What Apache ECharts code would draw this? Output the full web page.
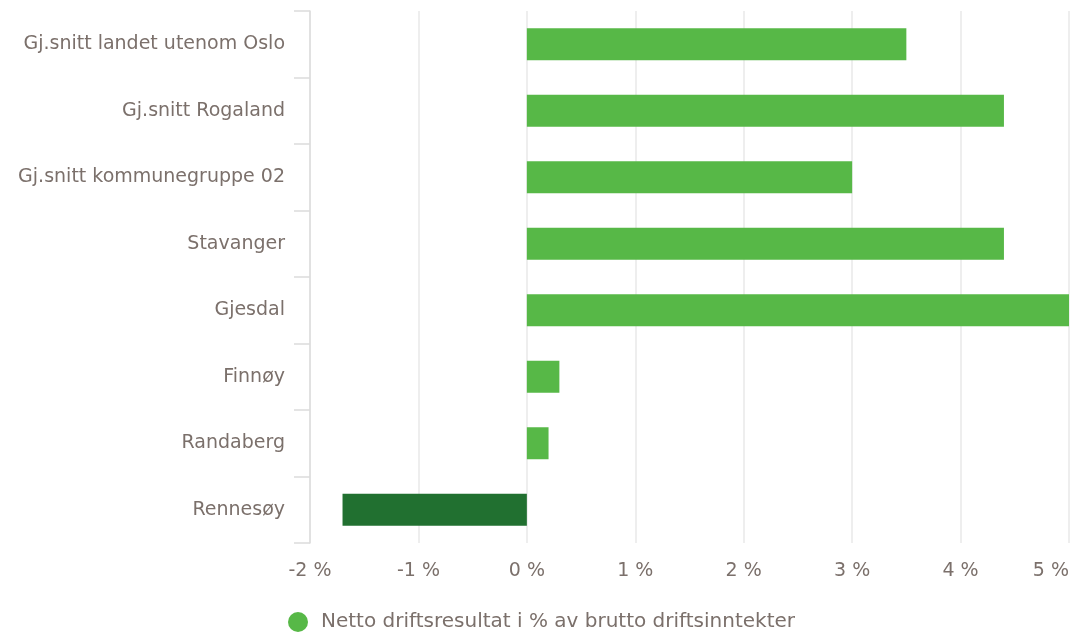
<!DOCTYPE html>
<html>
<head>
<meta charset="utf-8">
<script src="https://cdn.jsdelivr.net/npm/echarts@6/dist/echarts.min.js"></script>
<style>
html, body { margin: 0; padding: 0; background: #fff; }
#chart { width: 1074px; height: 637px; }
</style>
</head>
<body>
<div id="chart"></div>
<script>
var categories = ['Gj.snitt landet utenom Oslo', 'Gj.snitt Rogaland', 'Gj.snitt kommunegruppe 02',
    'Stavanger', 'Gjesdal', 'Finnøy', 'Randaberg', 'Rennesøy'];
var values = [3.5, 4.4, 3.0, 4.4, 5.0, 0.3, 0.2, -1.7];
var highlighted = ['Rennesøy'];
var xTicks = [-2, -1, 0, 1, 2, 3, 4, 5];
var seriesName = 'Netto driftsresultat i % av brutto driftsinntekter';

var textColor = '#7b706b';
var fontFamily = '"DejaVu Sans", sans-serif';

var chart = echarts.init(document.getElementById('chart'));

// kategori-aksen går ovenfra og ned
var cats = categories.slice().reverse();
var data = values.slice().reverse().map(function (v, i) {
    var name = cats[i];
    return {
        value: v,
        itemStyle: {color: highlighted.indexOf(name) >= 0 ? '#217030' : '#57b847'}
    };
});

chart.setOption({
    animation: false,
    textStyle: {fontFamily: fontFamily},
    grid: {left: 310, right: 5, top: 11, bottom: 94, containLabel: false, outerBoundsMode: 'none'},
    legend: {
        bottom: 0,
        left: 283,
        icon: 'circle',
        itemWidth: 20,
        itemHeight: 20,
        itemGap: 12,
        textStyle: {color: textColor, fontSize: 20, fontFamily: fontFamily, padding: [0, 0, 0, 8]},
        data: [seriesName]
    },
    xAxis: {
        type: 'value',
        min: xTicks[0],
        max: xTicks[xTicks.length - 1],
        interval: 1,
        axisLine: {show: false},
        axisTick: {show: false},
        axisLabel: {
            color: textColor,
            fontSize: 19,
            margin: 19,
            alignMaxLabel: 'right',
            formatter: function (v) {
                return v + ' %';
            }
        },
        splitLine: {lineStyle: {color: '#e8e8e8', width: 1.5}}
    },
    yAxis: {
        type: 'category',
        data: cats,
        axisLine: {show: true, onZero: false, lineStyle: {color: '#dcdcdc', width: 1.5}},
        axisTick: {show: true, length: 16, lineStyle: {color: '#dcdcdc', width: 1.5}},
        axisLabel: {color: textColor, fontSize: 19, margin: 25}
    },
    series: [{
        name: seriesName,
        type: 'bar',
        barWidth: 32,
        itemStyle: {color: '#57b847'},
        data: data
    }]
});
</script>
</body>
</html>
